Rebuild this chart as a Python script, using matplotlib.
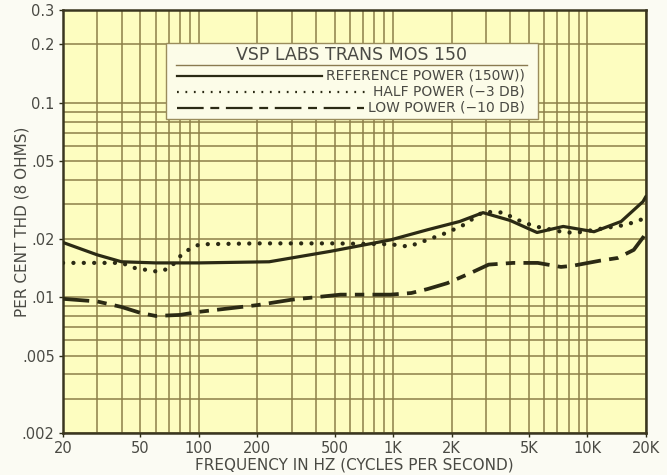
import numpy as np
import matplotlib
matplotlib.use('Agg')
import matplotlib.pyplot as plt
from matplotlib.lines import Line2D
from matplotlib.patches import Rectangle
from matplotlib.ticker import FixedLocator, LogLocator, NullFormatter

# data (frequency in Hz, THD in per cent)
freq_ref = [20, 30, 40, 60, 100, 230, 475, 970, 1500, 2200, 2900, 4000,
            5500, 7500, 10800, 14900, 19300, 20000]
thd_ref = [0.0191, 0.0165, 0.0152, 0.0150, 0.0150, 0.0152, 0.0172, 0.0197,
           0.0222, 0.0245, 0.0272, 0.0248, 0.0215, 0.0231, 0.0217, 0.0245,
           0.0310, 0.0330]

freq_half = [20, 30, 40, 47, 62, 71, 83, 92, 101, 200, 500, 970, 1200, 1500,
             1900, 2300, 2900, 3300, 3700, 4140, 4700, 5400, 7700, 8900,
             12800, 15200, 17200, 19400, 20000]
thd_half = [0.0150, 0.0150, 0.0150, 0.0141, 0.0135, 0.0141, 0.0169, 0.0179,
            0.0187, 0.0189, 0.0189, 0.0187, 0.0182, 0.0197, 0.0215, 0.0235,
            0.0274, 0.0274, 0.0272, 0.0256, 0.0242, 0.0231, 0.0215, 0.0215,
            0.0228, 0.0234, 0.0242, 0.0253, 0.0260]

freq_low = [20, 30, 40, 50, 60, 80, 100, 150, 200, 300, 536, 970, 1240, 1500,
            1900, 2500, 3100, 4140, 5550, 7300, 8400, 11600, 14300, 17300,
            19400, 20000]
thd_low = [0.0098, 0.0095, 0.0089, 0.0083, 0.0080, 0.0081, 0.0084, 0.0088,
           0.0091, 0.0097, 0.0103, 0.0103, 0.0105, 0.0110, 0.0118, 0.0133,
           0.0147, 0.0150, 0.0150, 0.0143, 0.0145, 0.0154, 0.0159, 0.0175,
           0.0204, 0.0215]

x_ticks = [20, 50, 100, 200, 500, 1000, 2000, 5000, 10000, 20000]
x_labels = ['20', '50', '100', '200', '500', '1K', '2K', '5K', '10K', '20K']
y_ticks = [0.002, 0.005, 0.01, 0.02, 0.05, 0.1, 0.2, 0.3]
y_labels = ['.002', '.005', '.01', '.02', '.05', '0.1', '0.2', '0.3']

legend_title = 'VSP LABS TRANS MOS 150'
series_names = ['REFERENCE POWER (150W))', 'HALF POWER (\u22123 DB)',
                'LOW POWER (\u221210 DB)']

INK = '#2b2a14'
GRID = '#8c7f48'
TEXT = '#4a4a44'

fig = plt.figure(figsize=(6.67, 4.75), dpi=100, facecolor='#fbfbf3')
ax = fig.add_axes([0.0945, 0.0884, 0.874, 0.8906])
ax.set_facecolor('#fdfdc0')
ax.set_xscale('log')
ax.set_yscale('log')
ax.set_xlim(20, 20000)
ax.set_ylim(0.002, 0.3)

# graph paper grid
ax.xaxis.set_minor_locator(LogLocator(base=10, subs=np.arange(2, 10)))
ax.yaxis.set_minor_locator(LogLocator(base=10, subs=np.arange(2, 10)))
ax.xaxis.set_minor_formatter(NullFormatter())
ax.yaxis.set_minor_formatter(NullFormatter())
ax.grid(True, which='both', color=GRID, linewidth=1.1, zorder=0)
ax.set_axisbelow(True)

ax.plot(freq_ref, thd_ref, color=INK, linewidth=2.3, solid_capstyle='round',
        zorder=3)
ax.plot(freq_half, thd_half, color=INK, linewidth=3.1,
        linestyle=(0, (0.01, 2.4)), dash_capstyle='round', zorder=3)
ax.plot(freq_low, thd_low, color=INK, linewidth=2.7,
        linestyle=(0, (7, 2.2, 2.5, 2.2)), zorder=3)

ax.xaxis.set_major_locator(FixedLocator(x_ticks))
ax.set_xticks(x_ticks, x_labels)
ax.set_yticks(y_ticks, y_labels)
ax.tick_params(which='major', length=3, width=1, color=INK, labelsize=10.5,
               labelcolor=TEXT, pad=3)
ax.tick_params(which='minor', length=0)

for spine in ax.spines.values():
    spine.set_color('#3a3620')
    spine.set_linewidth(1.8)

ax.set_xlabel('FREQUENCY IN HZ (CYCLES PER SECOND)', fontsize=11,
              color=TEXT, labelpad=1)
ax.set_ylabel('PER CENT THD (8 OHMS)', fontsize=11, color=TEXT)
ax.yaxis.set_label_coords(-0.057, 0.5)

# hand-drawn legend box, as on the original sheet
box = Rectangle((0.177, 0.742), 0.638, 0.180, transform=ax.transAxes,
                facecolor='#fcfce8', edgecolor='#9a8c5c', linewidth=1.0,
                zorder=5)
ax.add_patch(box)
ax.text(0.495, 0.893, legend_title, transform=ax.transAxes, ha='center',
        va='center', fontsize=12.5, color=TEXT, zorder=6)
ax.add_line(Line2D([0.194, 0.796], [0.871, 0.871], transform=ax.transAxes,
                   color='#8a7a50', linewidth=1.0, zorder=6))

row_y = [0.845, 0.807, 0.769]
styles = [dict(linestyle='-'),
          dict(linestyle=(0, (0.8, 3.0))),
          dict(linestyle=(0, (12, 3, 4, 3)))]
texts = []
for name, y in zip(series_names, row_y):
    texts.append(ax.text(0.792, y, name, transform=ax.transAxes, ha='right',
                         va='center', fontsize=10, color=TEXT, zorder=6))

fig.canvas.draw()
inv = ax.transAxes.inverted()
for t, y, st in zip(texts, row_y, styles):
    left = inv.transform((t.get_window_extent().x0 - 4, 0))[0]
    ax.add_line(Line2D([0.196, left], [y, y], transform=ax.transAxes,
                       color=INK, linewidth=1.6, zorder=6, **st))

fig.savefig('out.png', dpi=100, facecolor=fig.get_facecolor())
